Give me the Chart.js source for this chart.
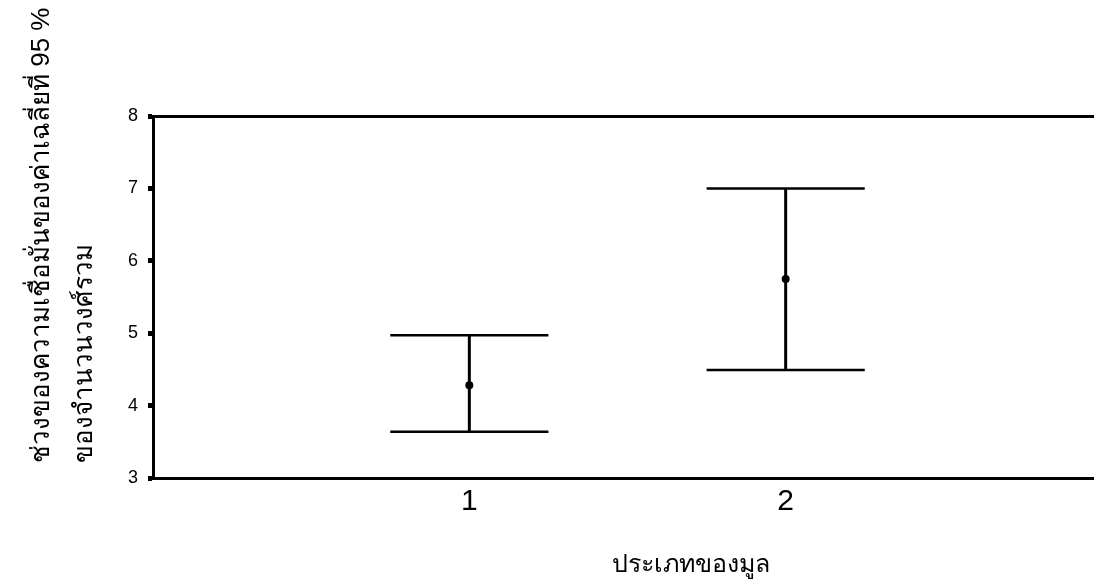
<!DOCTYPE html>
<html>
<head>
<meta charset="utf-8">
<script src="https://cdn.jsdelivr.net/npm/chart.js@4"></script>
<style>
  html, body { margin: 0; padding: 0; background: #fff; overflow: hidden; }
  #wrap { position: relative; width: 1106px; height: 586px; }
</style>
</head>
<body>
<div id="wrap"><canvas id="ciChart"></canvas></div>
<script>
// ช่วงความเชื่อมั่น 95% ของค่าเฉลี่ย แยกตามประเภทของมูล
const groups = [1, 2];
const means = [4.28, 5.75];
const lowerCI = [3.64, 4.49];
const upperCI = [4.97, 7.0];
const yTicks = [3, 4, 5, 6, 7, 8];

const yTitle = ['ช่วงของความเชื่อมั่นของค่าเฉลี่ยที่ 95 %', 'ของจำนวนวงศ์รวม'];
const xTitle = 'ประเภทของมูล';

const fontFamily = '"Liberation Sans", Arial, sans-serif';
const capHalf = 0.25;

// เส้นช่วงความเชื่อมั่นและขีดปลาย วาดก่อนจุดค่าเฉลี่ย
const errorBars = {
    id: 'errorBars',
    beforeDatasetsDraw(chart) {
        const { ctx, scales: { x, y } } = chart;
        ctx.save();
        ctx.strokeStyle = '#000';
        groups.forEach((g, i) => {
            const cx = x.getPixelForValue(g);
            const yl = y.getPixelForValue(lowerCI[i]);
            const yu = y.getPixelForValue(upperCI[i]);
            ctx.lineWidth = 3;
            ctx.beginPath();
            ctx.moveTo(cx, yl);
            ctx.lineTo(cx, yu);
            ctx.stroke();
            ctx.lineWidth = 2.5;
            [yl, yu].forEach(py => {
                ctx.beginPath();
                ctx.moveTo(x.getPixelForValue(g - capHalf), py);
                ctx.lineTo(x.getPixelForValue(g + capHalf), py);
                ctx.stroke();
            });
        });
        ctx.restore();
    }
};

// ชื่อแกน
const axisTitles = {
    id: 'axisTitles',
    afterDraw(chart) {
        const { ctx, chartArea } = chart;
        ctx.save();
        ctx.fillStyle = '#000';
        ctx.textBaseline = 'middle';
        ctx.textAlign = 'center';
        ctx.font = '25px ' + fontFamily;
        ctx.fillText(xTitle, 691, 565);

        ctx.font = '26px ' + fontFamily;
        ctx.translate(0, chartArea.bottom - 15);
        ctx.rotate(-Math.PI / 2);
        ctx.textAlign = 'left';
        ctx.fillText(yTitle[0], 0, 42);
        ctx.fillText(yTitle[1], 0, 85);
        ctx.restore();
    }
};

const ctx = document.getElementById('ciChart').getContext('2d');
new Chart(ctx, {
    type: 'scatter',
    data: {
        datasets: [{
            data: groups.map((g, i) => ({ x: g, y: means[i] })),
            pointStyle: 'circle',
            pointRadius: 4,
            backgroundColor: '#000',
            borderColor: '#000',
            borderWidth: 0
        }]
    },
    options: {
        responsive: true,
        maintainAspectRatio: false,
        animation: false,
        layout: { padding: 0 },
        plugins: {
            legend: { display: false },
            tooltip: { enabled: false }
        },
        scales: {
            x: {
                type: 'linear',
                position: 'bottom',
                min: 0,
                max: 3,
                afterBuildTicks: s => { s.ticks = groups.map(v => ({ value: v })); },
                afterFit: s => { s.height = 108; },
                grid: { display: false, drawTicks: false },
                border: { color: '#000', width: 3 },
                ticks: {
                    color: '#000',
                    padding: 6,
                    font: { family: fontFamily, size: 30 }
                }
            },
            x2: {
                type: 'linear',
                position: 'top',
                min: 0,
                max: 3,
                afterFit: s => { s.height = 116; },
                grid: { display: false, drawTicks: false },
                border: { color: '#000', width: 3 },
                ticks: { display: false }
            },
            y: {
                min: 3,
                max: 8,
                afterBuildTicks: s => { s.ticks = yTicks.map(v => ({ value: v })); },
                afterFit: s => { s.width = 153; },
                grid: {
                    drawOnChartArea: false,
                    tickLength: 5,
                    tickWidth: 5,
                    tickColor: '#000'
                },
                border: { color: '#000', width: 3 },
                ticks: {
                    color: '#000',
                    padding: 10,
                    font: { family: fontFamily, size: 18 }
                }
            }
        }
    },
    plugins: [errorBars, axisTitles]
});
</script>
</body>
</html>
